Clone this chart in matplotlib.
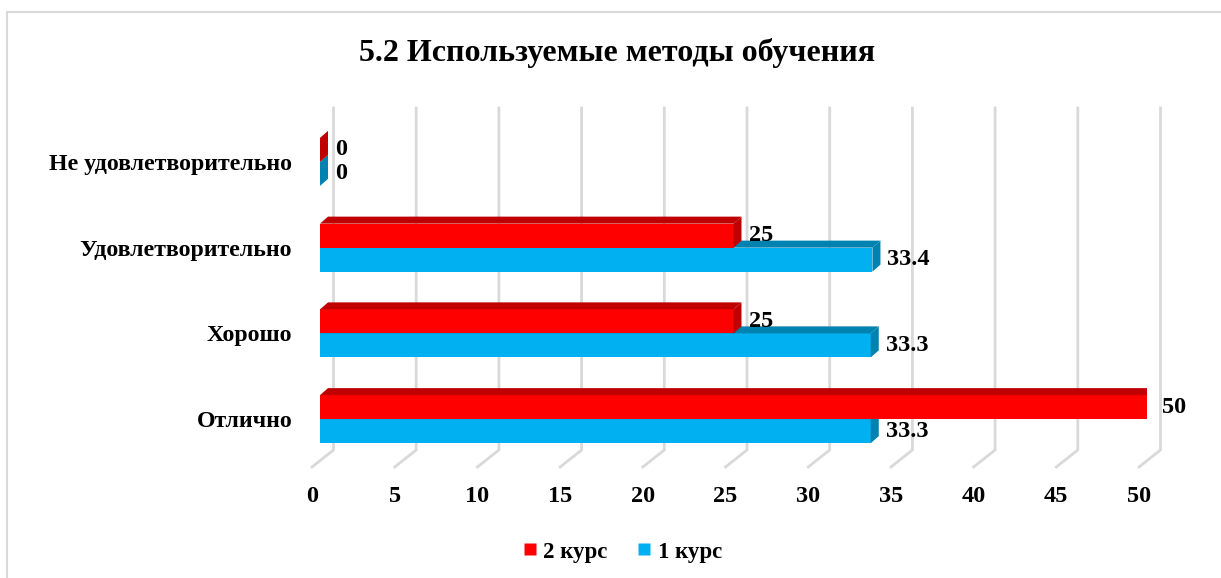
import matplotlib.pyplot as plt
from matplotlib.patches import Polygon, Rectangle
from matplotlib.lines import Line2D
from matplotlib.transforms import ScaledTranslation
import numpy as np

categories = ["Отлично", "Хорошо", "Удовлетворительно", "Не удовлетворительно"]
kurs2 = [50, 25, 25, 0]
kurs1 = [33.3, 33.3, 33.4, 0]
labels2 = ["50", "25", "25", "0"]
labels1 = ["33.3", "33.3", "33.4", "0"]
xticks = list(range(0, 55, 5))

red, red_dark = "#FF0000", "#C00000"
blue, blue_dark = "#00B0F0", "#0082B0"

plt.rcParams["font.family"] = ["Liberation Serif", "DejaVu Serif"]
plt.rcParams["font.weight"] = "bold"

W, H = 1221, 578
fig = plt.figure(figsize=(W / 100, H / 100), dpi=100)
ax = fig.add_axes([320 / W, 116 / H, 827 / W, 343 / H])
ax.set_xlim(0, 50)
ax.set_ylim(-0.5, 3.5)

# pixel -> data units
sx = 827 / 50
sy = 343 / 4
dx, dy = 8 / sx, 7 / sy
h = 24 / sy
ys = np.arange(len(categories))

# 3d-ish back wall and floor grid
for t in xticks:
    xs = [t - 8 / sx, t + 13.5 / sx, t + 13.5 / sx]
    yy = [-0.5 - 5 / sy, -0.5 + 12 / sy, 3.5 + 11 / sy]
    ax.plot(xs, yy, color="#d9d9d9", lw=2, zorder=1, clip_on=False)


def depth(vals, bottoms, dark):
    for v, yb in zip(vals, bottoms):
        yt = yb + h
        top = [(0, yt), (v, yt), (v + dx, yt + dy), (dx, yt + dy)]
        side = [(v, yb), (v, yt), (v + dx, yt + dy), (v + dx, yb + dy)]
        ax.add_patch(Polygon(top, closed=True, fc=dark, ec="none", zorder=3))
        ax.add_patch(Polygon(side, closed=True, fc=dark, ec="none", zorder=3))


ax.barh(ys - h / 2, kurs1, height=h, color=blue, zorder=3)
depth(kurs1, ys - h, blue_dark)
ax.barh(ys + h / 2, kurs2, height=h, color=red, zorder=4)
depth(kurs2, ys, red_dark)
for p in ax.patches[-8:]:
    p.set_zorder(4)

for v, y, s in zip(kurs2, ys, labels2):
    ax.text(v + dx + 7 / sx, y + h / 2, s, va="center", ha="left", fontsize=17.5, zorder=5)
for v, y, s in zip(kurs1, ys, labels1):
    ax.text(v + dx + 7 / sx, y - h / 2, s, va="center", ha="left", fontsize=17.5, zorder=5)

ax.set_yticks(ys, categories, fontsize=17.2)
ax.set_xticks(xticks, [str(t) for t in xticks], fontsize=17.5)
ax.tick_params(axis="y", length=0, pad=20)
ax.tick_params(axis="x", length=0, pad=17)
for lab in ax.get_xticklabels():
    lab.set_transform(lab.get_transform() + ScaledTranslation(-8 / 100, 0, fig.dpi_scale_trans))
for s in ax.spines.values():
    s.set_visible(False)
ax.set_facecolor("none")

fig.text(0.505, 1 - 53 / H, "5.2 Используемые методы обучения", ha="center", va="center",
         fontsize=23, fontweight="bold")

fig.add_artist(Rectangle((6.5 / W, -0.1), 1.2, (H - 11.5) / H + 0.1, transform=fig.transFigure,
                         fill=False, ec="#d9d9d9", lw=1.5))

handles = [
    Line2D([], [], marker="s", ls="none", mfc=red, mec="none", markersize=8, label="2 курс"),
    Line2D([], [], marker="s", ls="none", mfc=blue, mec="none", markersize=8, label="1 курс"),
]
fig.legend(handles=handles, loc="center", bbox_to_anchor=(0.509, 1 - 552 / H), ncol=2,
           frameon=False, fontsize=16.5, handletextpad=0.2, columnspacing=1.2, handlelength=0.8)

fig.savefig("out.png", dpi=100)
